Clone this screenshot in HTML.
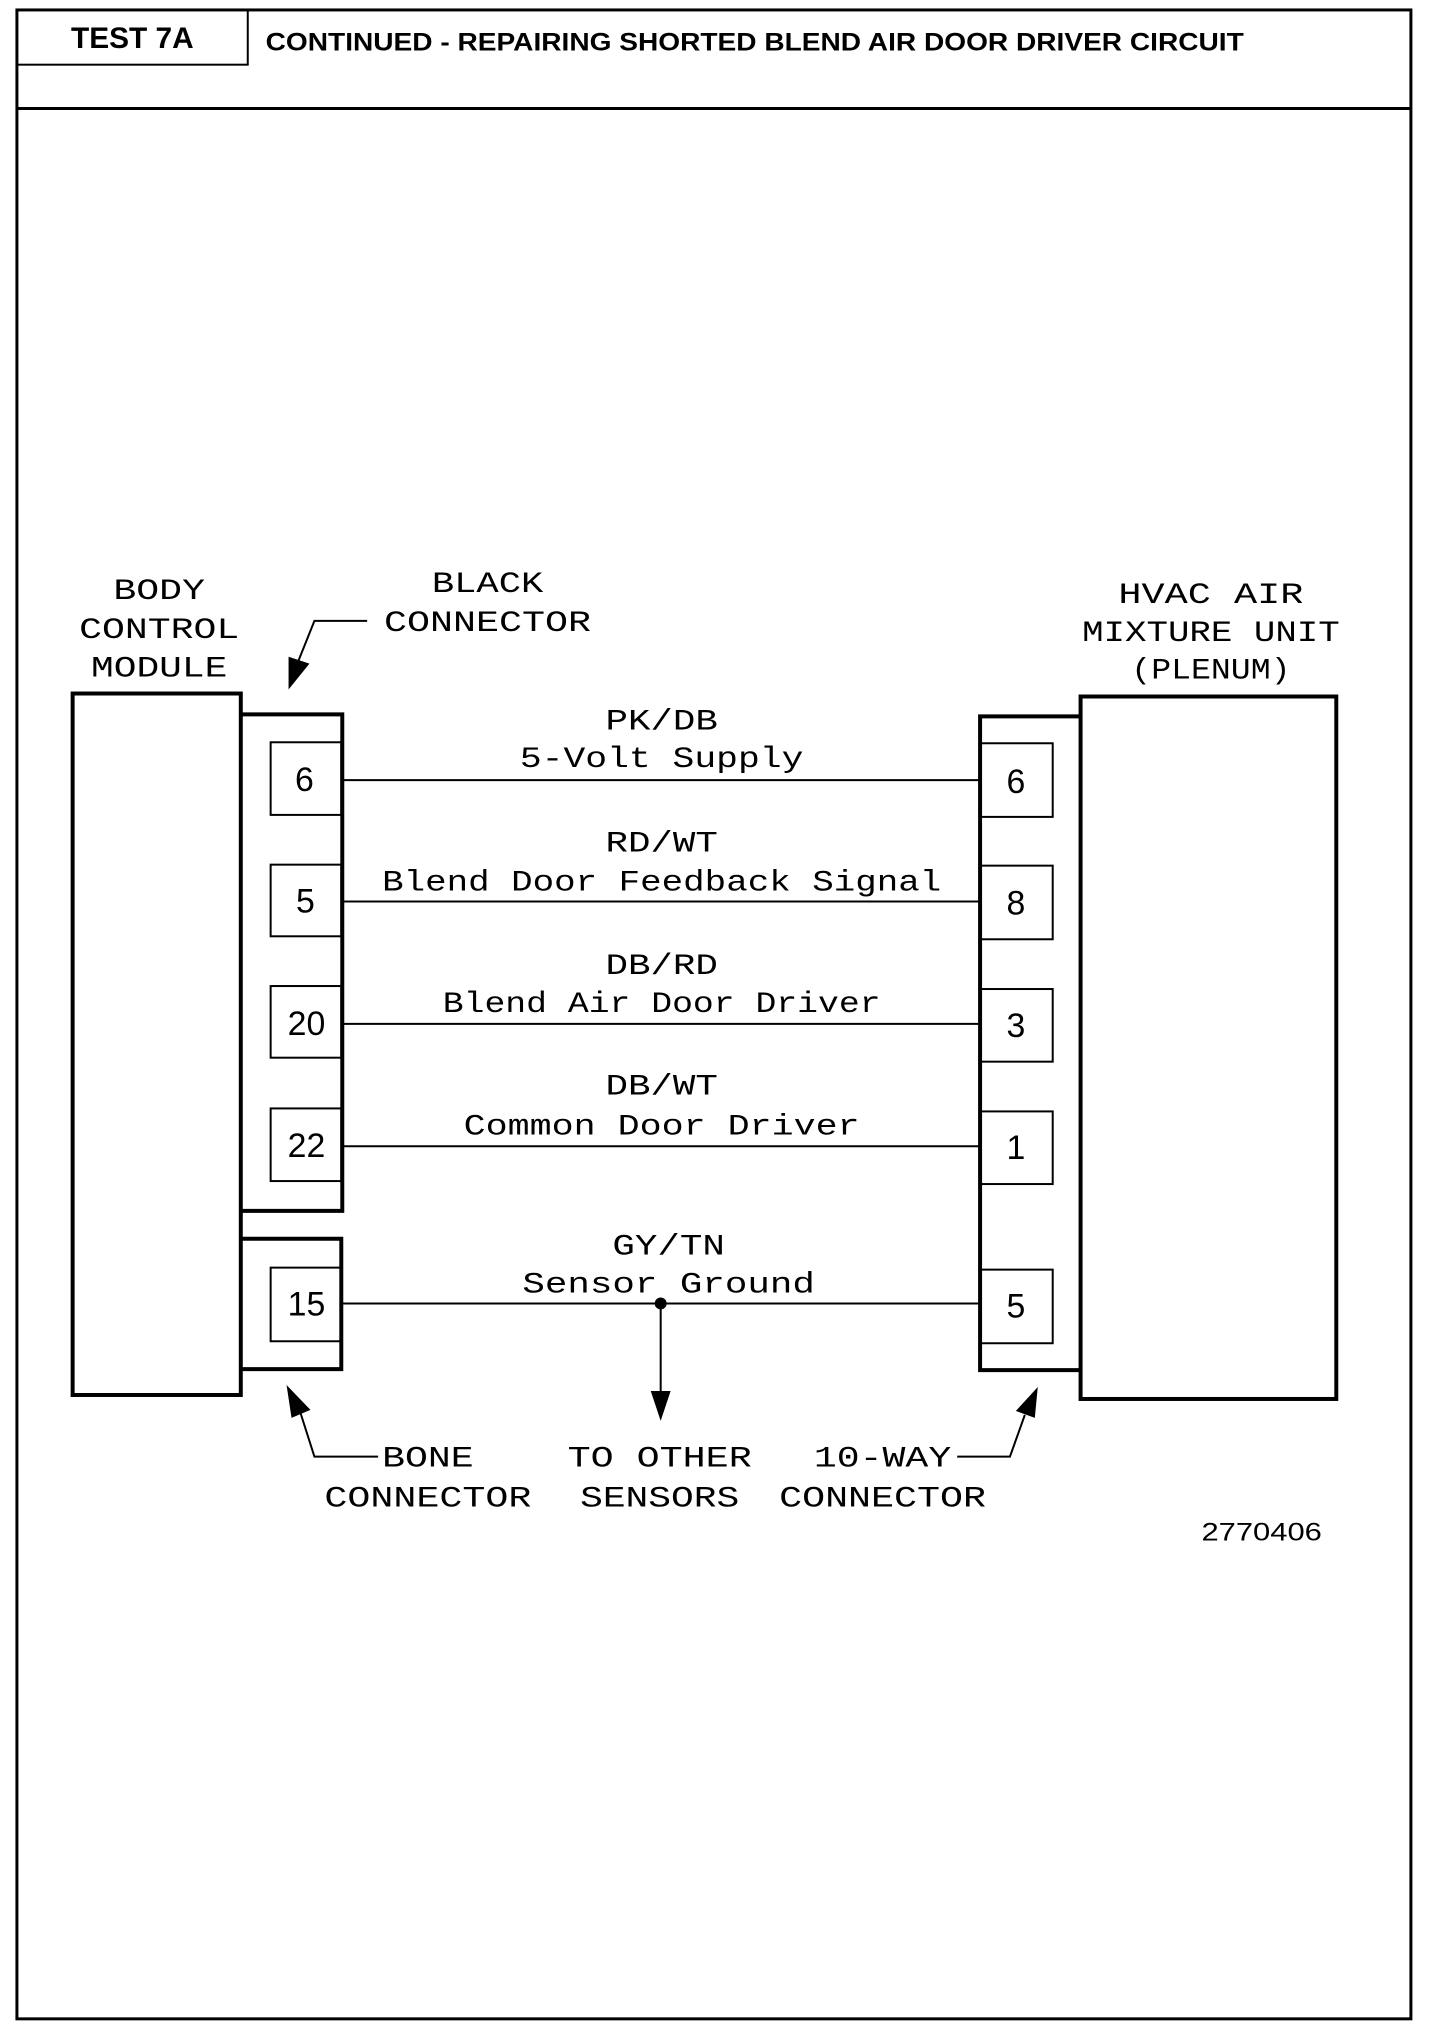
<!DOCTYPE html>
<html><head><meta charset="utf-8"><style>
html,body{margin:0;padding:0;background:#fff;}
svg{display:block;}
.t{font-family:"Liberation Mono","DejaVu Sans Mono",monospace;font-size:30px;fill:#000;}
.n{font-family:"Liberation Sans",Arial,sans-serif;font-size:34px;fill:#000;}
.h{font-family:"Liberation Sans",Arial,sans-serif;font-weight:bold;fill:#000;}
</style></head><body>
<svg width="1440" height="2044" viewBox="0 0 1440 2044" xmlns="http://www.w3.org/2000/svg">
<g transform="scale(0.995)">
<g stroke="#000" fill="none">
<rect x="17" y="10" width="1401" height="2019" stroke-width="3"/>
<line x1="17" y1="109" x2="1418" y2="109" stroke-width="3"/>
<rect x="17" y="10" width="232" height="55" stroke-width="2"/>
<rect x="73" y="697" width="169" height="705" stroke-width="4"/>
<path d="M242 718 H344 V1217 H242" stroke-width="4"/>
<path d="M242 1245 H343 V1376 H242" stroke-width="4"/>
<rect x="272" y="746" width="71" height="73" stroke-width="2"/>
<rect x="272" y="869" width="71" height="72" stroke-width="2"/>
<rect x="272" y="991" width="71" height="72" stroke-width="2"/>
<rect x="272" y="1114" width="71" height="73" stroke-width="2"/>
<rect x="272" y="1274" width="71" height="74" stroke-width="2"/>
<rect x="1086" y="700" width="257" height="706" stroke-width="4"/>
<path d="M1086 720 H985 V1377 H1086" stroke-width="4"/>
<rect x="985" y="747" width="73" height="74" stroke-width="2"/>
<rect x="985" y="870" width="73" height="74" stroke-width="2"/>
<rect x="985" y="994" width="73" height="73" stroke-width="2"/>
<rect x="985" y="1117" width="73" height="73" stroke-width="2"/>
<rect x="985" y="1276" width="73" height="74" stroke-width="2"/>
<g stroke-width="2">
<line x1="344" y1="784" x2="985" y2="784"/>
<line x1="344" y1="906" x2="985" y2="906"/>
<line x1="344" y1="1029" x2="985" y2="1029"/>
<line x1="344" y1="1152" x2="985" y2="1152"/>
<line x1="344" y1="1310" x2="985" y2="1310"/>
<line x1="664" y1="1310" x2="664" y2="1400"/>
<path d="M369 624 H316 L300 664"/>
<path d="M380 1464 H316 L302 1420"/>
<path d="M962 1464 H1015 L1030 1422"/>
</g>
</g>
<g fill="#000">
<circle cx="664" cy="1310" r="6"/>
<polygon points="654,1398 674,1398 664,1428"/>
<polygon points="290,693 290,660 311,667"/>
<polygon points="288,1392 293,1425 312,1417"/>
<polygon points="1043,1394 1021,1418 1040,1425"/>
</g>
<text class="h" x="133" y="48" font-size="30" text-anchor="middle">TEST 7A</text>
<text class="h" x="267" y="51" font-size="25" textLength="983" lengthAdjust="spacingAndGlyphs">CONTINUED - REPAIRING SHORTED BLEND AIR DOOR DRIVER CIRCUIT</text>
<g class="t" text-anchor="middle">
<text x="160" y="602" textLength="92" lengthAdjust="spacingAndGlyphs">BODY</text>
<text x="160" y="641" textLength="161" lengthAdjust="spacingAndGlyphs">CONTROL</text>
<text x="160" y="680" textLength="137" lengthAdjust="spacingAndGlyphs">MODULE</text>
<text x="490" y="595" textLength="112" lengthAdjust="spacingAndGlyphs">BLACK</text>
<text x="490" y="634" textLength="208" lengthAdjust="spacingAndGlyphs">CONNECTOR</text>
<text x="1217" y="606" textLength="186" lengthAdjust="spacingAndGlyphs">HVAC AIR</text>
<text x="1217" y="644" textLength="259" lengthAdjust="spacingAndGlyphs">MIXTURE UNIT</text>
<text x="1217" y="682" textLength="160" lengthAdjust="spacingAndGlyphs">(PLENUM)</text>
<text x="665" y="733" textLength="113" lengthAdjust="spacingAndGlyphs">PK/DB</text>
<text x="665" y="771" textLength="285" lengthAdjust="spacingAndGlyphs">5-Volt Supply</text>
<text x="665" y="856" textLength="113" lengthAdjust="spacingAndGlyphs">RD/WT</text>
<text x="665" y="895" textLength="562" lengthAdjust="spacingAndGlyphs">Blend Door Feedback Signal</text>
<text x="665" y="979" textLength="113" lengthAdjust="spacingAndGlyphs">DB/RD</text>
<text x="665" y="1017" textLength="440" lengthAdjust="spacingAndGlyphs">Blend Air Door Driver</text>
<text x="665" y="1100" textLength="113" lengthAdjust="spacingAndGlyphs">DB/WT</text>
<text x="665" y="1140" textLength="398" lengthAdjust="spacingAndGlyphs">Common Door Driver</text>
<text x="672" y="1261" textLength="113" lengthAdjust="spacingAndGlyphs">GY/TN</text>
<text x="672" y="1299" textLength="294" lengthAdjust="spacingAndGlyphs">Sensor Ground</text>
<text x="430" y="1474" textLength="92" lengthAdjust="spacingAndGlyphs">BONE</text>
<text x="430" y="1514" textLength="208" lengthAdjust="spacingAndGlyphs">CONNECTOR</text>
<text x="663" y="1474" textLength="185" lengthAdjust="spacingAndGlyphs">TO OTHER</text>
<text x="663" y="1514" textLength="160" lengthAdjust="spacingAndGlyphs">SENSORS</text>
<text x="887" y="1474" textLength="138" lengthAdjust="spacingAndGlyphs">10-WAY</text>
<text x="887" y="1514" textLength="208" lengthAdjust="spacingAndGlyphs">CONNECTOR</text>
</g>
<g class="n" text-anchor="middle">
<text x="306" y="795">6</text>
<text x="307" y="917">5</text>
<text x="308" y="1040">20</text>
<text x="308" y="1163">22</text>
<text x="308" y="1322">15</text>
<text x="1021" y="797">6</text>
<text x="1021" y="919">8</text>
<text x="1021" y="1042">3</text>
<text x="1021" y="1165">1</text>
<text x="1021" y="1324">5</text>
</g>
<text x="1268" y="1548" text-anchor="middle" font-family="Liberation Sans, Arial, sans-serif" font-size="25" textLength="121" lengthAdjust="spacingAndGlyphs">2770406</text>
</g>
</svg>
</body></html>
